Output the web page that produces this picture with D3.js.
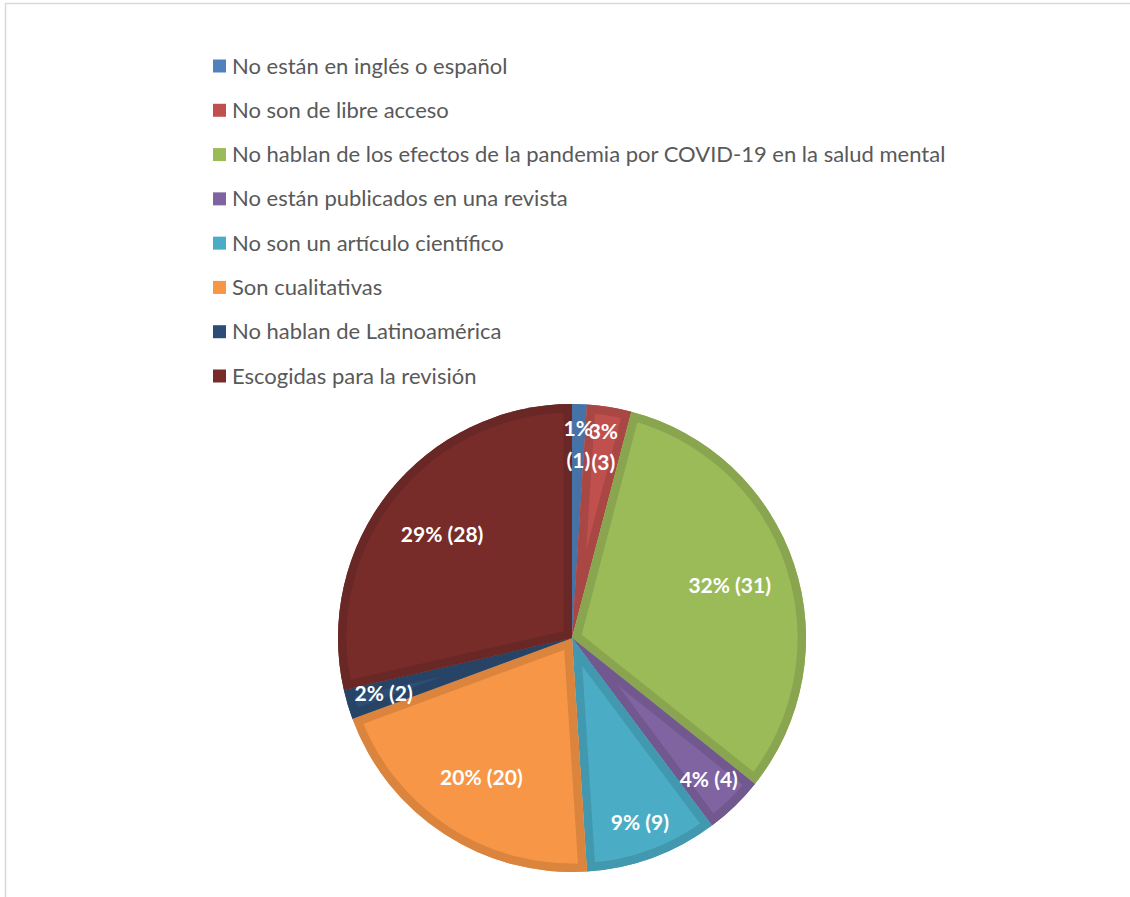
<!DOCTYPE html>
<html>
<head>
<meta charset="utf-8">
<script src="https://cdn.jsdelivr.net/npm/d3@7"></script>
<style>
  html, body { margin: 0; padding: 0; background: #fff; }
  svg { display: block; }
</style>
</head>
<body>
<svg id="chart" width="1130" height="897"></svg>
<script>
// Categories of excluded / selected articles and their counts
const categories = [
  "No están en inglés o español",
  "No son de libre acceso",
  "No hablan de los efectos de la pandemia por COVID-19 en la salud mental",
  "No están publicados en una revista",
  "No son un artículo científico",
  "Son cualitativas",
  "No hablan de Latinoamérica",
  "Escogidas para la revisión"
];
const counts = [1, 3, 31, 4, 9, 20, 2, 28];
const colors = ["#4F81BD", "#C0504D", "#9BBB59", "#8064A2", "#4BACC6", "#F79646", "#2C4D75", "#772C2A"];

const svg = d3.select("#chart");
const W = 1130, H = 897;

// Chart area frame
svg.append("rect")
  .attr("x", 5.5).attr("y", 3.5)
  .attr("width", W + 10).attr("height", H + 10)
  .attr("fill", "none").attr("stroke", "#d9d9d9").attr("stroke-width", 1.5);

// Legend
const legend = svg.append("g").attr("transform", "translate(213,0)");
const rowY = d3.scalePoint().domain(d3.range(categories.length)).range([66, 376]);
const rows = legend.selectAll("g.row").data(categories).join("g")
  .attr("class", "row")
  .attr("transform", (d, i) => `translate(0,${rowY(i)})`);
rows.append("rect")
  .attr("x", 0).attr("y", -6.5).attr("width", 13).attr("height", 13)
  .attr("fill", (d, i) => colors[i]);
rows.append("text")
  .attr("x", 19).attr("y", 7.5)
  .attr("font-family", "Lato, 'Open Sans', sans-serif")
  .attr("font-size", 22)
  .attr("fill", "#595959")
  .text(d => d);

// Pie
const cx = 572, cy = 638, R = 234;
const total = d3.sum(counts);
const pie = d3.pie().sort(null).value(d => d);
const arcs = pie(counts);
const arc = d3.arc().innerRadius(0).outerRadius(R);
const g = svg.append("g").attr("transform", `translate(${cx},${cy})`);
const defs = svg.append("defs");

arcs.forEach((a, i) => {
  const id = "slice-clip-" + i;
  defs.append("clipPath").attr("id", id)
    .append("path").attr("d", arc(a));
  const base = d3.color(colors[i]);
  g.append("path")
    .attr("d", arc(a))
    .attr("fill", base.formatHex());
  // darker inner band along every edge of the slice
  g.append("path")
    .attr("d", arc(a))
    .attr("fill", "none")
    .attr("stroke", base.darker(0.35).formatHex())
    .attr("stroke-width", 17)
    .attr("stroke-linejoin", "miter")
    .attr("clip-path", `url(#${id})`);
});

// Data labels: percentage and count
const fmtPct = v => Math.round(v / total * 100) + "%";
arcs.forEach((a, i) => {
  const share = a.value / total;
  const mid = (a.startAngle + a.endAngle) / 2;
  const lr = share > 0.15 ? 0.71 * R : 0.84 * R;
  const x = Math.sin(mid) * lr, y = -Math.cos(mid) * lr;
  const wrap = share < 0.035 && Math.abs(Math.sin(mid)) < 0.5;
  const t = g.append("text")
    .attr("x", x).attr("y", y)
    .attr("text-anchor", "middle")
    .attr("font-family", "Lato, 'Open Sans', sans-serif")
    .attr("font-weight", "bold")
    .attr("font-size", 21)
    .attr("fill", "#fff");
  if (wrap) {
    t.append("tspan").attr("x", x).attr("dy", "-0.25em").text(fmtPct(a.value));
    t.append("tspan").attr("x", x).attr("dy", "1.5em").text(`(${a.value})`);
  } else {
    t.attr("dy", "0.35em").text(`${fmtPct(a.value)} (${a.value})`);
  }
});
</script>
</body>
</html>
